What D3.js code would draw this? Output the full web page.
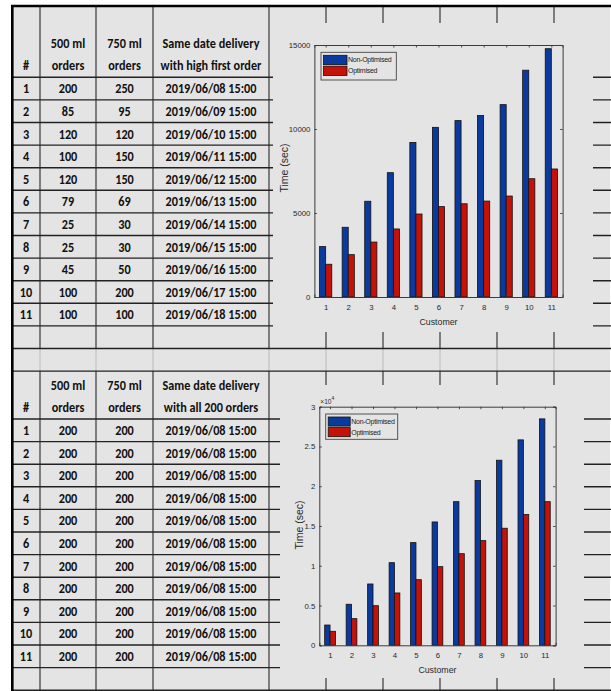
<!DOCTYPE html>
<html>
<head>
<meta charset="utf-8">
<script src="https://cdn.jsdelivr.net/npm/d3@7"></script>
<style>
  html, body { margin: 0; padding: 0; background: #fff; }
  svg { display: block; }
</style>
</head>
<body>
<svg id="chart" width="611" height="691"></svg>
<script>
// ---------------- DATA ----------------
const rowNumbers = [1, 2, 3, 4, 5, 6, 7, 8, 9, 10, 11];

const headerLine1 = ["", "500 ml", "750 ml", "Same date delivery"];
const headerLine2A = ["#", "orders", "orders", "with high first order"];
const headerLine2B = ["#", "orders", "orders", "with all 200 orders"];

const orders500A = [200, 85, 120, 100, 120, 79, 25, 25, 45, 100, 100];
const orders750A = [250, 95, 120, 150, 150, 69, 30, 30, 50, 200, 100];
const deliveryA = ["2019/06/08 15:00", "2019/06/09 15:00", "2019/06/10 15:00", "2019/06/11 15:00",
  "2019/06/12 15:00", "2019/06/13 15:00", "2019/06/14 15:00", "2019/06/15 15:00",
  "2019/06/16 15:00", "2019/06/17 15:00", "2019/06/18 15:00"];

const orders500B = [200, 200, 200, 200, 200, 200, 200, 200, 200, 200, 200];
const orders750B = [200, 200, 200, 200, 200, 200, 200, 200, 200, 200, 200];
const deliveryB = ["2019/06/08 15:00", "2019/06/08 15:00", "2019/06/08 15:00", "2019/06/08 15:00",
  "2019/06/08 15:00", "2019/06/08 15:00", "2019/06/08 15:00", "2019/06/08 15:00",
  "2019/06/08 15:00", "2019/06/08 15:00", "2019/06/08 15:00"];

const customers = [1, 2, 3, 4, 5, 6, 7, 8, 9, 10, 11];
const seriesNames = ["Non-Optimised", "Optimised"];

// chart 1 (seconds)
const nonOptimised1 = [3000, 4150, 5700, 7400, 9200, 10100, 10500, 10800, 11450, 13500, 14780];
const optimised1 = [1950, 2520, 3270, 4050, 4940, 5380, 5550, 5710, 6010, 7040, 7620];
const yTicks1 = [0, 5000, 10000, 15000];

// chart 2 (seconds, axis shown in x10^4)
const nonOptimised2 = [2550, 5160, 7710, 10390, 12910, 15510, 18060, 20710, 23270, 25830, 28470];
const optimised2 = [1760, 3350, 4980, 6580, 8250, 9890, 11520, 13160, 14720, 16450, 18060];
const yTicks2 = [0, 5000, 10000, 15000, 20000, 25000, 30000];

// ---------------- LAYOUT ----------------
const svg = d3.select("#chart");
const BG = "#e4e4e4";
const GRID = "#444";
const tableFont = "Carlito, Lato, 'Open Sans', sans-serif";
const chartFont = "'Liberation Sans', Arial, Helvetica, sans-serif";

svg.append("rect").attr("x", 0).attr("y", 0).attr("width", 611).attr("height", 691).attr("fill", "#fff");
svg.append("rect").attr("x", 12).attr("y", 6).attr("width", 598).attr("height", 685).attr("fill", BG);

const colEdges = [12, 40, 96, 153, 269, 326, 383, 440, 497, 554];
const rowH = 22.6;
const head1Bottom = 77.3;
const rowLinesA = d3.range(0, 13).map(i => head1Bottom + i * rowH);
const spacer2Top = rowLinesA[12];
const spacer2Bottom = spacer2Top + rowH;
const head2Bottom = 419;
const rowLinesB = d3.range(0, 13).map(i => head2Bottom + i * rowH);

const gGrid = svg.append("g");
colEdges.slice(1).forEach(x => {
  gGrid.append("line").attr("x1", x).attr("x2", x).attr("y1", 6).attr("y2", spacer2Top)
    .attr("stroke", GRID).attr("stroke-width", 1.3);
  gGrid.append("line").attr("x1", x).attr("x2", x).attr("y1", spacer2Top).attr("y2", spacer2Bottom)
    .attr("stroke", "#bdbdbd").attr("stroke-width", 1.1);
  gGrid.append("line").attr("x1", x).attr("x2", x).attr("y1", spacer2Bottom).attr("y2", 691)
    .attr("stroke", GRID).attr("stroke-width", 1.3);
});
rowLinesA.concat([spacer2Bottom]).concat(rowLinesB).forEach(y => {
  gGrid.append("line").attr("x1", 12).attr("x2", 611).attr("y1", y).attr("y2", y)
    .attr("stroke", "#222").attr("stroke-width", 1.4);
});

// ---------------- TABLE TEXT ----------------
const colCenters = colEdges.slice(0, 4).map((x, i) => (x + colEdges[i + 1]) / 2);
const gText = svg.append("g").attr("font-family", tableFont).attr("font-weight", "bold").attr("fill", "#111");

const tSize = 13.6;
const probe = gText.append("text").attr("font-size", tSize).text(deliveryA[0]);
const probeW = probe.node().getComputedTextLength();
probe.remove();
const sx = Math.min(1, 91 / probeW);

function putText(x, y, t) {
  gText.append("text").attr("transform", `translate(${x},${y}) scale(${sx},1)`)
    .attr("text-anchor", "middle").attr("dominant-baseline", "central")
    .attr("font-size", tSize).text(t);
}

function drawTable(headBottom, line2, c500, c750, dates) {
  headerLine1.forEach((t, i) => { if (t) putText(colCenters[i], headBottom - 34, t); });
  line2.forEach((t, i) => putText(colCenters[i], headBottom - 12, t));
  rowNumbers.forEach((n, r) => {
    const cy = headBottom + r * rowH + rowH / 2;
    [n, c500[r], c750[r], dates[r]].forEach((v, i) => putText(colCenters[i], cy, v));
  });
}
drawTable(head1Bottom, headerLine2A, orders500A, orders750A, deliveryA);
drawTable(head2Bottom, headerLine2B, orders500B, orders750B, deliveryB);

// ---------------- CHARTS ----------------
const BLUE = "#0b3a9e", RED = "#c41208";

function drawChart(cfg) {
  const g = svg.append("g").attr("font-family", chartFont);
  g.append("rect").attr("x", cfg.img[0]).attr("y", cfg.img[1])
    .attr("width", cfg.img[2] - cfg.img[0]).attr("height", cfg.img[3] - cfg.img[1]).attr("fill", BG);

  const x = d3.scaleLinear().domain([0.5, 11.5]).range([cfg.left, cfg.right]);
  const y = d3.scaleLinear().domain(cfg.yDomain).range([cfg.bottom, cfg.top]);
  const bw = cfg.barW;

  const gb = g.append("g");
  gb.selectAll("rect.b1").data(customers).join("rect")
    .attr("x", d => x(d - bw)).attr("width", d => x(d) - x(d - bw))
    .attr("y", (d, i) => y(cfg.s1[i])).attr("height", (d, i) => y(0) - y(cfg.s1[i]))
    .attr("fill", BLUE).attr("stroke", "#111").attr("stroke-width", 0.8);
  gb.selectAll("rect.b2").data(customers).join("rect")
    .attr("x", d => x(d)).attr("width", d => x(d + bw) - x(d))
    .attr("y", (d, i) => y(cfg.s2[i])).attr("height", (d, i) => y(0) - y(cfg.s2[i]))
    .attr("fill", RED).attr("stroke", "#111").attr("stroke-width", 0.8);

  const axColor = "#3c3c3c";
  const tl = 2.5;
  const axL = d3.axisLeft(y).tickValues(cfg.yTicks).tickSize(-tl).tickPadding(4).tickFormat(cfg.yFmt);
  const axR = d3.axisRight(y).tickValues(cfg.yTicks).tickSize(-tl).tickFormat("");
  const axB = d3.axisBottom(x).tickValues(customers).tickSize(-tl).tickPadding(7).tickFormat(d3.format("d"));
  const axT = d3.axisTop(x).tickValues(customers).tickSize(-tl).tickFormat("");

  const styleAx = sel => {
    sel.selectAll("path").attr("stroke", axColor).attr("stroke-width", 1);
    sel.selectAll("line").attr("stroke", axColor).attr("stroke-width", 0.9);
    sel.selectAll("text").attr("fill", "#2a2a2a").attr("font-size", 7.8).attr("font-family", chartFont);
  };
  g.append("g").attr("transform", `translate(${cfg.left},0)`).call(axL).call(styleAx);
  g.append("g").attr("transform", `translate(${cfg.right},0)`).call(axR).call(styleAx);
  g.append("g").attr("transform", `translate(0,${cfg.bottom})`).call(axB).call(styleAx);
  g.append("g").attr("transform", `translate(0,${cfg.top})`).call(axT).call(styleAx);

  g.append("text").attr("x", (cfg.left + cfg.right) / 2).attr("y", cfg.bottom + 25)
    .attr("text-anchor", "middle").attr("dominant-baseline", "central")
    .attr("font-size", 8.8).attr("fill", "#2a2a2a").text("Customer");
  g.append("text").attr("transform", `translate(${cfg.ylabX},${cfg.ylabY}) rotate(-90)`)
    .attr("text-anchor", "middle").attr("dominant-baseline", "central")
    .attr("font-size", 10.5).attr("fill", "#2a2a2a").text("Time (sec)");

  if (cfg.expLabel) {
    const t = g.append("text").attr("x", cfg.left + 1).attr("y", cfg.top - 3)
      .attr("font-size", 6.6).attr("fill", "#2a2a2a");
    t.append("tspan").text("×10");
    t.append("tspan").attr("dy", -3.5).attr("font-size", 5).text("4");
  }

  const lg = cfg.legend;
  g.append("rect").attr("x", lg.x).attr("y", lg.y).attr("width", lg.w).attr("height", lg.h)
    .attr("fill", BG).attr("stroke", "#444").attr("stroke-width", 0.9);
  [BLUE, RED].forEach((c, i) => {
    const sy = lg.y + 3 + i * lg.step;
    g.append("rect").attr("x", lg.x + 2.5).attr("y", sy).attr("width", lg.sw).attr("height", lg.step - 1.5)
      .attr("fill", c).attr("stroke", "#111").attr("stroke-width", 0.8);
    g.append("text").attr("x", lg.x + 3.5 + lg.sw).attr("y", sy + (lg.step - 1.5) / 2)
      .attr("dominant-baseline", "central").attr("font-size", 7).attr("letter-spacing", -0.25)
      .attr("fill", "#1a1a1a").text(seriesNames[i]);
  });
}

drawChart({
  img: [273, 23, 593, 332],
  left: 314.4, right: 562.6, top: 45, bottom: 297,
  yDomain: [0, 15000], yTicks: yTicks1, yFmt: d3.format("d"),
  s1: nonOptimised1, s2: optimised1, barW: 0.27,
  ylabX: 284, ylabY: 168,
  legend: { x: 321, y: 52.3, w: 75.3, h: 27.7, sw: 23.5, step: 10.8 },
  expLabel: false
});

drawChart({
  img: [280, 385, 584, 678],
  left: 319.3, right: 555.6, top: 406.7, bottom: 645.3,
  yDomain: [0, 30000], yTicks: yTicks2, yFmt: d => d3.format("~g")(d / 10000),
  s1: nonOptimised2, s2: optimised2, barW: 0.25,
  ylabX: 299, ylabY: 525,
  legend: { x: 325.7, y: 414, w: 72, h: 25.3, sw: 22, step: 10.6 },
  expLabel: true
});

// ---------------- OUTER BORDERS ----------------
svg.append("line").attr("x1", 11).attr("x2", 611).attr("y1", 6).attr("y2", 6)
  .attr("stroke", "#000").attr("stroke-width", 2.6);
svg.append("line").attr("x1", 12.3).attr("x2", 12.3).attr("y1", 5).attr("y2", 691)
  .attr("stroke", "#000").attr("stroke-width", 2.6);
</script>
</body>
</html>
